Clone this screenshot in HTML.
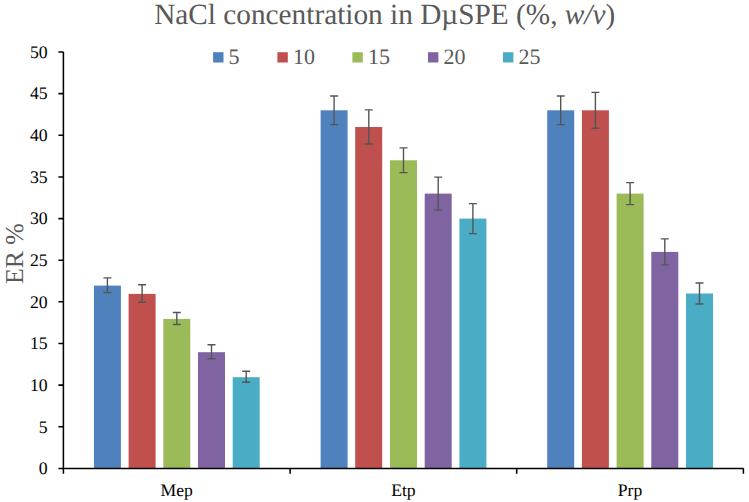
<!DOCTYPE html>
<html lang="en"><head><meta charset="utf-8"><title>NaCl concentration in DµSPE</title>
<style>html,body{margin:0;padding:0;background:#fff;}body{width:749px;height:502px;overflow:hidden;}svg{display:block;}text{font-family:"Liberation Serif","Times New Roman",serif;text-rendering:geometricPrecision;}</style></head><body>
<svg width="749" height="502" viewBox="0 0 749 502">
<rect width="749" height="502" fill="#fff"/>
<text x="384.7" y="24.3" font-size="29.3" fill="#595959" text-anchor="middle">NaCl concentration in DµSPE (%, <tspan font-style="italic">w/v</tspan>)</text>
<rect x="213.1" y="52.2" width="10.4" height="10.3" fill="#4F81BD"/>
<text x="228.6" y="64.2" font-size="22" fill="#595959">5</text>
<rect x="277.4" y="52.2" width="10.4" height="10.3" fill="#C0504D"/>
<text x="292.9" y="64.2" font-size="22" fill="#595959">10</text>
<rect x="352.4" y="52.2" width="10.4" height="10.3" fill="#9BBB59"/>
<text x="367.9" y="64.2" font-size="22" fill="#595959">15</text>
<rect x="428.0" y="52.2" width="10.4" height="10.3" fill="#8064A2"/>
<text x="443.5" y="64.2" font-size="22" fill="#595959">20</text>
<rect x="503.0" y="52.2" width="10.4" height="10.3" fill="#4BACC6"/>
<text x="518.5" y="64.2" font-size="22" fill="#595959">25</text>
<rect x="93.9" y="285.6" width="27.0" height="182.8" fill="#4F81BD"/>
<rect x="128.6" y="293.9" width="27.0" height="174.5" fill="#C0504D"/>
<rect x="163.3" y="318.9" width="27.0" height="149.5" fill="#9BBB59"/>
<rect x="198.0" y="352.2" width="27.0" height="116.2" fill="#8064A2"/>
<rect x="232.7" y="377.2" width="27.0" height="91.2" fill="#4BACC6"/>
<rect x="320.6" y="110.3" width="27.0" height="358.1" fill="#4F81BD"/>
<rect x="355.2" y="127.0" width="27.0" height="341.4" fill="#C0504D"/>
<rect x="390.0" y="160.3" width="27.0" height="308.1" fill="#9BBB59"/>
<rect x="424.7" y="193.6" width="27.0" height="274.8" fill="#8064A2"/>
<rect x="459.4" y="218.6" width="27.0" height="249.8" fill="#4BACC6"/>
<rect x="547.2" y="110.3" width="27.0" height="358.1" fill="#4F81BD"/>
<rect x="581.9" y="110.3" width="27.0" height="358.1" fill="#C0504D"/>
<rect x="616.6" y="193.6" width="27.0" height="274.8" fill="#9BBB59"/>
<rect x="651.3" y="251.9" width="27.0" height="216.5" fill="#8064A2"/>
<rect x="686.0" y="293.5" width="27.0" height="174.9" fill="#4BACC6"/>
<path d="M107.4 277.9V292.5M103.4 277.9h8M103.4 292.5h8" stroke="#555" stroke-width="1.4" fill="none"/>
<path d="M142.1 284.8V302.3M138.1 284.8h8M138.1 302.3h8" stroke="#555" stroke-width="1.4" fill="none"/>
<path d="M176.8 312.5V324.5M172.8 312.5h8M172.8 324.5h8" stroke="#555" stroke-width="1.4" fill="none"/>
<path d="M211.5 344.8V358.8M207.5 344.8h8M207.5 358.8h8" stroke="#555" stroke-width="1.4" fill="none"/>
<path d="M246.2 371.3V382.3M242.2 371.3h8M242.2 382.3h8" stroke="#555" stroke-width="1.4" fill="none"/>
<path d="M334.1 96.0V124.6M330.1 96.0h8M330.1 124.6h8" stroke="#555" stroke-width="1.4" fill="none"/>
<path d="M368.8 109.9V144.0M364.8 109.9h8M364.8 144.0h8" stroke="#555" stroke-width="1.4" fill="none"/>
<path d="M403.5 147.9V172.6M399.5 147.9h8M399.5 172.6h8" stroke="#555" stroke-width="1.4" fill="none"/>
<path d="M438.2 177.1V210.1M434.2 177.1h8M434.2 210.1h8" stroke="#555" stroke-width="1.4" fill="none"/>
<path d="M472.9 203.6V233.6M468.9 203.6h8M468.9 233.6h8" stroke="#555" stroke-width="1.4" fill="none"/>
<path d="M560.7 96.0V124.6M556.7 96.0h8M556.7 124.6h8" stroke="#555" stroke-width="1.4" fill="none"/>
<path d="M595.4 92.4V128.2M591.4 92.4h8M591.4 128.2h8" stroke="#555" stroke-width="1.4" fill="none"/>
<path d="M630.1 182.6V204.6M626.1 182.6h8M626.1 204.6h8" stroke="#555" stroke-width="1.4" fill="none"/>
<path d="M664.8 238.9V264.9M660.8 238.9h8M660.8 264.9h8" stroke="#555" stroke-width="1.4" fill="none"/>
<path d="M699.5 283.0V304.0M695.5 283.0h8M695.5 304.0h8" stroke="#555" stroke-width="1.4" fill="none"/>
<path d="M63.4 52.0V473.7M58.4 468.4H743.65M58.4 426.8H63.4M58.4 385.1H63.4M58.4 343.5H63.4M58.4 301.8H63.4M58.4 260.2H63.4M58.4 218.6H63.4M58.4 176.9H63.4M58.4 135.3H63.4M58.4 93.6H63.4M58.4 52.0H63.4M290.1 468.4v5.3M516.7 468.4v5.3M743.4 468.4v5.3" stroke="#000" stroke-width="1.55" stroke-linejoin="round" fill="none"/>
<text x="47.6" y="474.2" font-size="17.7" fill="#000" text-anchor="end">0</text>
<text x="47.6" y="432.6" font-size="17.7" fill="#000" text-anchor="end">5</text>
<text x="47.6" y="390.9" font-size="17.7" fill="#000" text-anchor="end">10</text>
<text x="47.6" y="349.3" font-size="17.7" fill="#000" text-anchor="end">15</text>
<text x="47.6" y="307.6" font-size="17.7" fill="#000" text-anchor="end">20</text>
<text x="47.6" y="266.0" font-size="17.7" fill="#000" text-anchor="end">25</text>
<text x="47.6" y="224.4" font-size="17.7" fill="#000" text-anchor="end">30</text>
<text x="47.6" y="182.7" font-size="17.7" fill="#000" text-anchor="end">35</text>
<text x="47.6" y="141.1" font-size="17.7" fill="#000" text-anchor="end">40</text>
<text x="47.6" y="99.4" font-size="17.7" fill="#000" text-anchor="end">45</text>
<text x="47.6" y="57.8" font-size="17.7" fill="#000" text-anchor="end">50</text>
<text x="176.7" y="496.0" font-size="17.6" fill="#000" text-anchor="middle">Mep</text>
<text x="403.4" y="496.0" font-size="17.6" fill="#000" text-anchor="middle">Etp</text>
<text x="630.0" y="496.0" font-size="17.6" fill="#000" text-anchor="middle">Prp</text>
<text transform="translate(23.1 253.6) rotate(-90)" font-size="25.8" fill="#595959" text-anchor="middle">ER %</text>
</svg></body></html>
